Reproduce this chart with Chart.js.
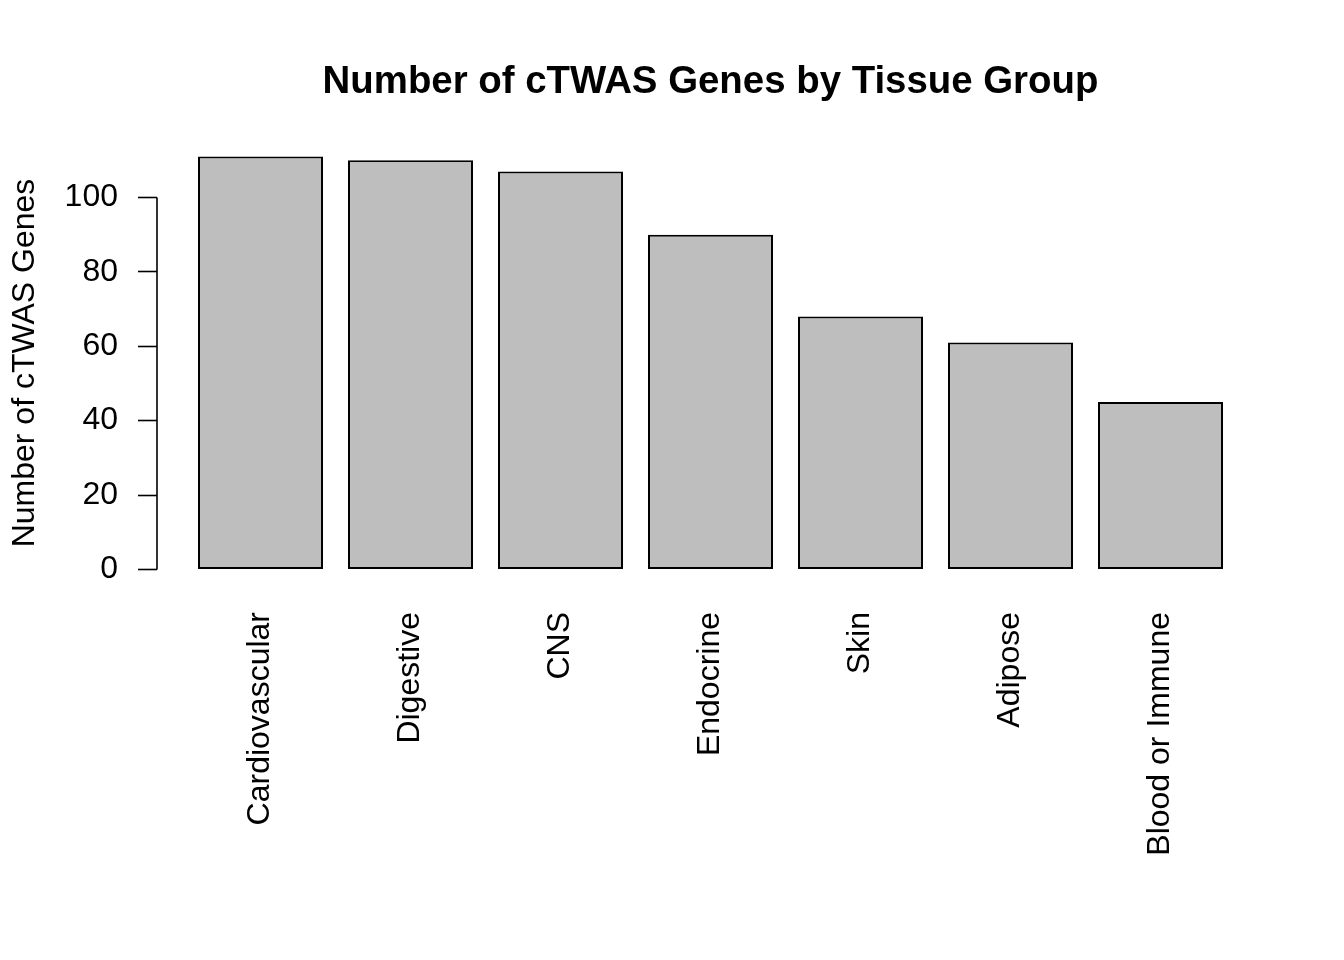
<!DOCTYPE html>
<html>
<head>
<meta charset="utf-8">
<title>Number of cTWAS Genes by Tissue Group</title>
<script src="https://cdn.jsdelivr.net/npm/chart.js@4.4.1/dist/chart.umd.min.js"></script>
<style>
  html, body { margin: 0; padding: 0; background: #fff; }
  #wrap { width: 1344px; height: 960px; }
</style>
</head>
<body>
<div id="wrap"><canvas id="bar-plot" width="1344" height="960"></canvas></div>
<script>
'use strict';

const tissues = ['Cardiovascular', 'Digestive', 'CNS', 'Endocrine', 'Skin', 'Adipose', 'Blood or Immune'];
const geneCounts = [111, 110, 107, 90, 68, 61, 45];
const yTicks = [0, 20, 40, 60, 80, 100];
const chartTitle = 'Number of cTWAS Genes by Tissue Group';

const FONT = '"Liberation Sans", Arial, Helvetica, sans-serif';

// R barplot layout: width 1, space 0.2, axis range padded by 4%
const barSpace = 0.2;
const centers = tissues.map((t, i) => barSpace + 0.5 + i * (1 + barSpace));
const xLo = barSpace, xHi = tissues.length * (1 + barSpace);
const xPad = (xHi - xLo) * 0.04;
const yHi = Math.max(...geneCounts);
const yPad = yHi * 0.04;

// y axis line only over the tick range, and the title centred on the plot region (base R style)
const rDecor = {
  id: 'rDecor',
  afterDraw(chart){
    const y = chart.scales.y;
    const area = chart.chartArea;
    const ctx = chart.ctx;
    ctx.save();
    ctx.strokeStyle = '#000';
    ctx.lineWidth = 1.6;
    ctx.beginPath();
    ctx.moveTo(area.left, y.getPixelForValue(yTicks[0]));
    ctx.lineTo(area.left, y.getPixelForValue(yTicks[yTicks.length - 1]));
    ctx.stroke();

    ctx.fillStyle = '#000';
    ctx.font = 'bold 38.4px ' + FONT;
    ctx.textAlign = 'center';
    ctx.textBaseline = 'alphabetic';
    ctx.fillText(chartTitle, (area.left + area.right) / 2, 93);
    ctx.restore();
  }
};

let chart = null;

function makePlot(){
  chart = new Chart(document.querySelector('#bar-plot'), {
    type: 'bar',
    data: {
      datasets: [{
        label: 'Genes',
        data: geneCounts.map((v, i) => ({x: centers[i], y: v})),
        backgroundColor: '#BEBEBE',
        borderColor: '#000000',
        borderWidth: 2,
        borderSkipped: false,
        categoryPercentage: 1,
        barPercentage: 1 / (1 + barSpace)
      }]
    },
    options: {
      responsive: false,
      animation: false,
      devicePixelRatio: 1,
      layout: {padding: {left: 0, right: 80, top: 140, bottom: 0}},
      plugins: {
        legend: {display: false},
        tooltip: {enabled: false},
        title: {display: false}
      },
      scales: {
        x: {
          type: 'linear',
          offset: false,
          min: xLo - xPad,
          max: xHi + xPad,
          grid: {display: false},
          border: {display: false},
          afterBuildTicks: (scale) => { scale.ticks = centers.map((c) => ({value: c})); },
          afterFit: (scale) => { scale.height = 374; },
          ticks: {
            autoSkip: false,
            minRotation: 90,
            maxRotation: 90,
            padding: 18,
            color: '#000',
            font: {family: FONT, size: 32},
            callback: (value, index) => tissues[index]
          }
        },
        y: {
          min: -yPad,
          max: yHi + yPad,
          afterBuildTicks: (scale) => { scale.ticks = yTicks.map((v) => ({value: v})); },
          afterFit: (scale) => { scale.width = 157; },
          grid: {
            display: true,
            drawOnChartArea: false,
            drawTicks: true,
            tickLength: 19,
            tickWidth: 1.6,
            tickColor: '#000'
          },
          border: {display: false},
          ticks: {
            padding: 20,
            color: '#000',
            font: {family: FONT, size: 32}
          },
          title: {
            display: true,
            text: 'Number of cTWAS Genes',
            color: '#000',
            font: {family: FONT, size: 32},
            padding: {top: 6, bottom: 0}
          }
        }
      }
    },
    plugins: [rDecor]
  });
}

window.addEventListener('load', () => {
  makePlot();
});
</script>
</body>
</html>
